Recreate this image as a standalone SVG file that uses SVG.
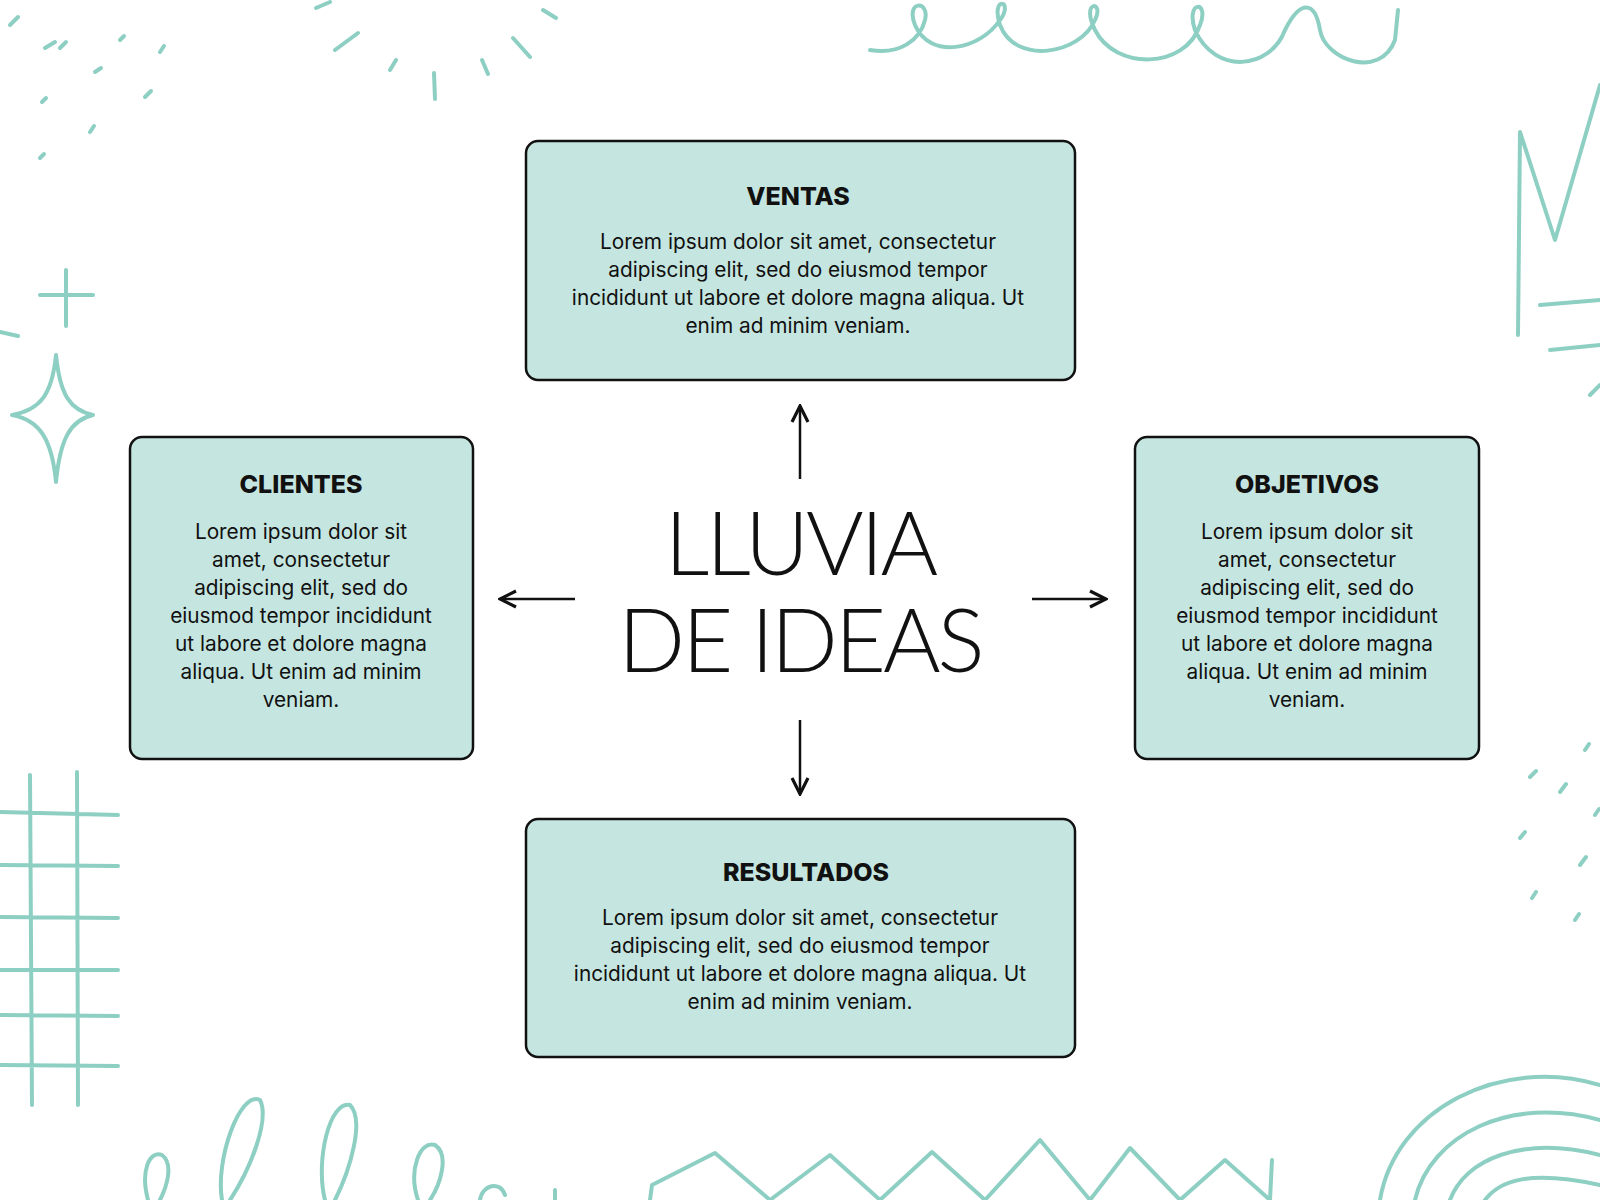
<svg xmlns="http://www.w3.org/2000/svg" width="1600" height="1200" viewBox="0 0 1600 1200">
<defs>
<style>
.box{fill:#c5e6e0;stroke:#111;stroke-width:2.5}
.t{font-family:Inter,"Noto Sans",sans-serif;font-weight:800;font-size:25px;fill:#111;text-anchor:middle}
.b{font-family:Inter,"Noto Sans",sans-serif;font-size:20.8px;fill:#111;text-anchor:middle}
.d{fill:none;stroke:#8ecfc3;stroke-width:4;stroke-linecap:round;stroke-linejoin:round}
.c{stroke:#111;stroke-width:2.5;fill:none}
</style>
<marker id="a" viewBox="0 0 10 10" refX="9" refY="5" markerWidth="8" markerHeight="8" orient="auto"><path d="M1,1 L9,5 L1,9" fill="none" stroke="#111" stroke-width="1.6"/></marker>
</defs>
<rect width="1600" height="1200" fill="#fff"/>
<g id="decor">
<path class="d" d="M870,50 C900,55 920,40 925,20 C930,0 905,0 915,25 C930,60 980,50 1000,20 C1015,0 990,-5 1000,25 C1015,65 1080,55 1095,20 C1105,0 1080,0 1095,30 C1115,70 1185,70 1200,25 C1210,0 1185,0 1195,30 C1215,75 1270,70 1285,30 C1300,0 1315,0 1320,30 C1325,60 1380,80 1395,40 L1398,10"/>
<path class="d" d="M335,50 L358,33 M390,70 L396,60 M434,73 L435,99 M482,60 L488,74 M513,38 L530,57 M543,10 L556,18 M316,8 L330,2"/>
<path class="d" d="M10,25 l8,-8 M45,48 l10,-6 M95,72 l6,-4 M42,102 l4,-4 M145,97 l6,-6 M90,132 l4,-6 M40,158 l4,-4 M60,48 l6,-6 M120,40 l4,-4 M160,52 l4,-6"/>
<path class="d" d="M66,270 L66,326 M40,295 L93,295 M0,332 L18,336"/>
<path class="d" d="M56,355 C60,395 70,410 93,415 C70,420 60,440 56,482 C52,440 40,420 12,415 C40,410 52,395 56,355Z"/>
<path class="d" d="M30,775 L32,1105 M77,772 L78,1105 M0,812 L118,815 M0,865 L118,866 M0,917 L118,918 M0,970 L118,970 M0,1015 L118,1016 M0,1065 L118,1066"/>
<path class="d" d="M148,1200 C140,1170 150,1150 162,1155 C175,1165 165,1190 160,1200 M222,1200 C215,1160 240,1090 260,1100 C270,1120 250,1170 230,1200 M325,1200 C315,1160 330,1100 350,1105 C365,1120 350,1170 335,1200 M418,1200 C408,1170 420,1140 435,1145 C450,1155 440,1185 430,1200 M480,1200 C482,1185 500,1180 505,1195 M555,1190 L555,1200"/>
<path class="d" d="M650,1200 L652,1185 L715,1153 L770,1200 L830,1155 L880,1200 L932,1152 L985,1200 L1040,1140 L1090,1200 L1130,1148 L1180,1200 L1225,1160 L1270,1200 L1272,1160"/>
<path class="d" d="M1380,1200 C1395,1110 1500,1055 1600,1085 M1415,1200 C1430,1135 1510,1095 1600,1120 M1450,1200 C1465,1160 1520,1135 1600,1155 M1485,1200 C1500,1180 1530,1170 1600,1185"/>
<path class="d" d="M1518,335 L1520,132 L1555,240 L1600,85 M1540,305 L1600,300 M1550,350 L1600,345 M1600,385 L1590,395"/>
<path class="d" d="M1530,777 l6,-6 M1560,792 l6,-8 M1585,750 l4,-6 M1520,838 l5,-6 M1580,865 l6,-8 M1532,898 l4,-6 M1575,920 l4,-6 M1595,815 l4,-6"/>
</g>
<g id="connectors">
<line class="c" x1="800" y1="479" x2="800" y2="406" marker-end="url(#a)"/>
<line class="c" x1="575" y1="599" x2="500" y2="599" marker-end="url(#a)"/>
<line class="c" x1="1032" y1="599" x2="1106" y2="599" marker-end="url(#a)"/>
<line class="c" x1="800" y1="720" x2="800" y2="794" marker-end="url(#a)"/>
</g>
<g id="center">
<text x="800" y="575" font-family="Lato,'Noto Sans',sans-serif" font-weight="300" font-size="88" letter-spacing="-3" text-anchor="middle" fill="#111">LLUVIA</text>
<text x="800" y="672" font-family="Lato,'Noto Sans',sans-serif" font-weight="300" font-size="88" letter-spacing="-3" text-anchor="middle" fill="#111">DE IDEAS</text>
</g>
<g id="ventas">
<rect class="box" x="526" y="141" width="549" height="239" rx="12"/>
<text class="t" x="798" y="205">VENTAS</text>
<text class="b" x="798" y="249">Lorem ipsum dolor sit amet, consectetur</text>
<text class="b" x="798" y="277">adipiscing elit, sed do eiusmod tempor</text>
<text class="b" x="798" y="305">incididunt ut labore et dolore magna aliqua. Ut</text>
<text class="b" x="798" y="333">enim ad minim veniam.</text>
</g>
<g id="clientes">
<rect class="box" x="130" y="437" width="343" height="322" rx="12"/>
<text class="t" x="301" y="493">CLIENTES</text>
<text class="b" x="301" y="539">Lorem ipsum dolor sit</text>
<text class="b" x="301" y="567">amet, consectetur</text>
<text class="b" x="301" y="595">adipiscing elit, sed do</text>
<text class="b" x="301" y="623">eiusmod tempor incididunt</text>
<text class="b" x="301" y="651">ut labore et dolore magna</text>
<text class="b" x="301" y="679">aliqua. Ut enim ad minim</text>
<text class="b" x="301" y="707">veniam.</text>
</g>
<g id="objetivos">
<rect class="box" x="1135" y="437" width="344" height="322" rx="12"/>
<text class="t" x="1307" y="493">OBJETIVOS</text>
<text class="b" x="1307" y="539">Lorem ipsum dolor sit</text>
<text class="b" x="1307" y="567">amet, consectetur</text>
<text class="b" x="1307" y="595">adipiscing elit, sed do</text>
<text class="b" x="1307" y="623">eiusmod tempor incididunt</text>
<text class="b" x="1307" y="651">ut labore et dolore magna</text>
<text class="b" x="1307" y="679">aliqua. Ut enim ad minim</text>
<text class="b" x="1307" y="707">veniam.</text>
</g>
<g id="resultados">
<rect class="box" x="526" y="819" width="549" height="238" rx="12"/>
<text class="t" x="806" y="881">RESULTADOS</text>
<text class="b" x="800" y="925">Lorem ipsum dolor sit amet, consectetur</text>
<text class="b" x="800" y="953">adipiscing elit, sed do eiusmod tempor</text>
<text class="b" x="800" y="981">incididunt ut labore et dolore magna aliqua. Ut</text>
<text class="b" x="800" y="1009">enim ad minim veniam.</text>
</g>
</svg>
